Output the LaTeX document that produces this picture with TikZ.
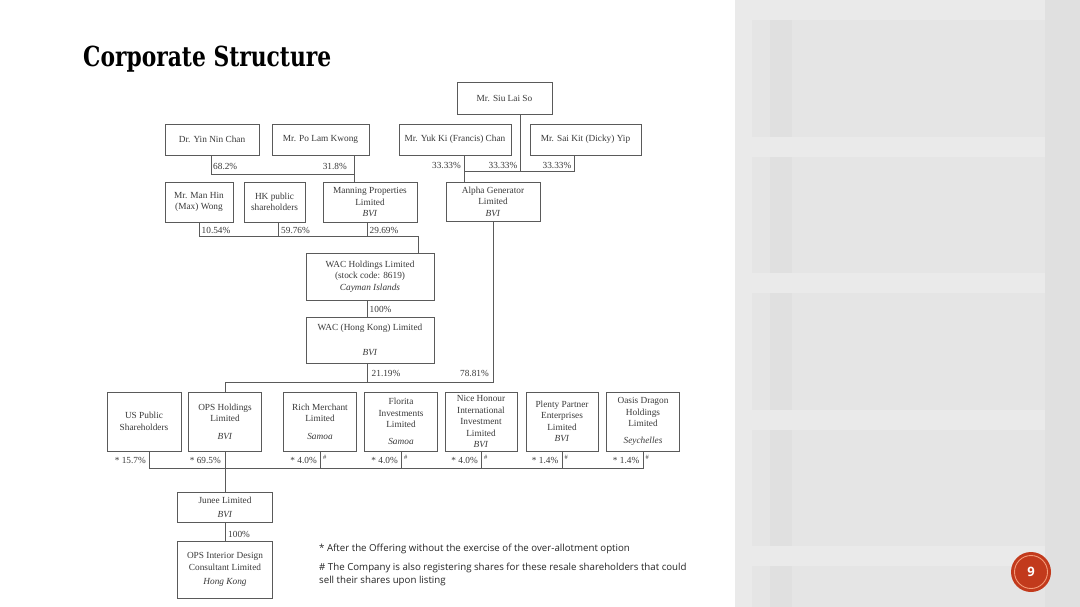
\documentclass[tikz,border=0pt]{standalone}
\usepackage{fontspec}
\usepackage{graphicx}
\setmainfont{Liberation Serif}
\newfontfamily\notefont{Open Sans}
\newfontfamily\titlefont{DejaVu Serif}
\newfontfamily\numfont{Open Sans}
\usetikzlibrary{calc}
\definecolor{linec}{HTML}{5A5A5A}
\definecolor{textc}{HTML}{3A3A3A}
\definecolor{panel}{HTML}{E5E5E5}
\definecolor{panelD}{HTML}{E0E0E0}
\definecolor{panelL}{HTML}{EAEAEA}
\definecolor{pgred}{HTML}{C23A1C}
\definecolor{pgring}{HTML}{F39A78}
\newcommand{\orgfont}{\fontsize{9.3}{11.5}\selectfont}
\newcommand{\smallhash}{\fontsize{6.5}{7}\selectfont\#}
\begin{document}
\begin{tikzpicture}[x=1pt,y=-1pt,
  orgbox/.style={draw=linec, line width=0.6pt, inner sep=0pt, align=center, text=textc, font=\orgfont},
  pct/.style={inner sep=0pt, text=textc, font=\orgfont},
  hashlbl/.style={inner sep=0pt, text=textc, anchor=west},
  conn/.style={draw=linec, line width=0.6pt},
  note/.style={inner sep=0pt, anchor=west, text=black!85, font=\notefont\fontsize{9.7}{12}\selectfont}]
\useasboundingbox (0,0) rectangle (1080,607);
% backgrounds
\fill[white] (0,0) rectangle (735,607);
\fill[panel] (735,0) rectangle (1080,607);
\fill[panelD] (770,0) rectangle (792,607);
\fill[panelD] (1045,0) rectangle (1080,607);
\foreach \yy in {0,137,273,410,546} {
  \fill[panelL] (735,\yy) rectangle (1045,\yy+20);
}
\fill[panelL] (735,0) rectangle (752,607);
% title
\node[anchor=base west, inner sep=0pt] (title) at (83,67) {\resizebox{248pt}{20.5pt}{\titlefont\bfseries Corporate Structure}};
% top boxes
\node[orgbox, minimum width=95pt, minimum height=32pt] (siu) at (504.5,98) {Mr. Siu Lai So};
\node[orgbox, minimum width=94pt, minimum height=31pt] (yin) at (212,139.5) {Dr. Yin Nin Chan};
\node[orgbox, minimum width=97pt, minimum height=31pt] (po) at (320.5,139.5) {Mr. Po Lam Kwong};
\node[orgbox, minimum width=112pt, minimum height=31pt] (yuk) at (455,139.5) {Mr. Yuk Ki (Francis) Chan};
\node[orgbox, minimum width=111pt, minimum height=31pt] (sai) at (585.5,139.5) {Mr. Sai Kit (Dicky) Yip};
% second row
\node[orgbox, minimum width=68pt, minimum height=40pt] (maxw) at (199,202) {Mr. Man Hin\\(Max) Wong};
\node[orgbox, minimum width=61pt, minimum height=40pt] (hk) at (274.5,202) {HK public\\shareholders};
\node[orgbox, minimum width=94pt, minimum height=40pt] (manning) at (370,202) {Manning Properties\\Limited\\\textit{BVI}};
\node[orgbox, minimum width=94pt, minimum height=39pt] (alpha) at (493,201.5) {Alpha Generator\\Limited\\\textit{BVI}};
% WAC
\node[orgbox, minimum width=128pt, minimum height=47pt] (wac) at (370,276.5) {WAC Holdings Limited\\(stock code: 8619)\\\textit{Cayman Islands}};
\node[orgbox, minimum width=128pt, minimum height=46pt] (wachk) at (370,340) {WAC (Hong Kong) Limited\\[13.5pt]\textit{BVI}};
% bottom row
\node[orgbox, minimum width=74pt, minimum height=59pt] (us) at (144,421.5) {US Public\\Shareholders};
\node[orgbox, minimum width=73pt, minimum height=59pt] (ops) at (225,421.5) {OPS Holdings\\Limited\\[6pt]\textit{BVI}};
\node[orgbox, minimum width=73pt, minimum height=59pt] (rich) at (320,421.5) {Rich Merchant\\Limited\\[6pt]\textit{Samoa}};
\node[orgbox, minimum width=73pt, minimum height=59pt] (florita) at (401,421.5) {Florita\\Investments\\Limited\\[5pt]\textit{Samoa}};
\node[orgbox, minimum width=72pt, minimum height=59pt] (nice) at (481,421.5) {Nice Honour\\International\\Investment\\Limited\\\textit{BVI}};
\node[orgbox, minimum width=72pt, minimum height=59pt] (plenty) at (562,421.5) {Plenty Partner\\Enterprises\\Limited\\\textit{BVI}};
\node[orgbox, minimum width=73pt, minimum height=59pt] (oasis) at (643,421.5) {Oasis Dragon\\Holdings\\Limited\\[5pt]\textit{Seychelles}};
% lower
\node[orgbox, minimum width=95pt, minimum height=30pt] (junee) at (225,507) {Junee Limited\\[2.5pt]\textit{BVI}};
\node[orgbox, minimum width=95pt, minimum height=57pt] (opsint) at (225,569.5) {OPS Interior Design\\Consultant Limited\\[2.5pt]\textit{Hong Kong}};
% connectors top right
\coordinate (hA) at (464,171);
\draw[conn] ([xshift=9pt]yuk.south) -- ([xshift=9pt]yuk.south |- alpha.north);
\draw[conn] (hA) -| ([xshift=-11.5pt]sai.south);
\draw[conn] ([xshift=15.5pt]siu.south) -- ([xshift=15.5pt]siu.south |- hA);
\node[pct, anchor=east] (l1) at (461,165) {33.33\%};
\node[pct, anchor=east] (l2) at (517.5,165) {33.33\%};
\node[pct, anchor=east] (l3) at (571.5,165) {33.33\%};
% connectors top left
\coordinate (hB) at (211,174);
\draw[conn] ([xshift=-1pt]yin.south) |- ([xshift=33.5pt]po.south |- hB);
\draw[conn] ([xshift=33.5pt]po.south) -- ([xshift=33.5pt]po.south |- manning.north);
\node[pct, anchor=west] (l4) at (213,166) {68.2\%};
\node[pct, anchor=east] (l5) at (347,166) {31.8\%};
% second row to WAC
\coordinate (hC) at (418,236);
\draw[conn] (maxw.south) |- (hC) -- (hC |- wac.north);
\draw[conn] ([xshift=3.5pt]hk.south) -- ([xshift=3.5pt]hk.south |- hC);
\draw[conn] ([xshift=-3pt]manning.south) -- ([xshift=-3pt]manning.south |- hC);
\node[pct, anchor=west] (l6) at (201.5,230.5) {10.54\%};
\node[pct, anchor=west] (l7) at (281,230.5) {59.76\%};
\node[pct, anchor=west] (l8) at (369.5,230.5) {29.69\%};
% WAC chain
\draw[conn] ([xshift=-3pt]wac.south) -- ([xshift=-3pt]wac.south |- wachk.north);
\node[pct, anchor=west] (l9) at (369.5,309) {100\%};
\coordinate (hD) at (225,382);
\draw[conn] ([xshift=-3pt]wachk.south) -- ([xshift=-3pt]wachk.south |- hD);
\draw[conn] (alpha.south) |- (ops.north |- hD) -- (ops.north);
\node[pct, anchor=west] (l10) at (371.5,373) {21.19\%};
\node[pct, anchor=east] (l11) at (489,373) {78.81\%};
% bottom row connectors
\coordinate (hE) at (149,468);
\draw[conn] ([xshift=5pt]us.south) |- (oasis.south |- hE) -- (oasis.south);
\foreach \n in {rich,florita,nice,plenty} {
  \draw[conn] (\n.south) -- (\n.south |- hE);
}
\draw[conn] (ops.south) -- (junee.north);
\draw[conn] (junee.south) -- (opsint.north);
\node[pct, anchor=east] (b1) at (146,460.5) {* 15.7\%};
\node[pct, anchor=east] (b2) at (221,460.5) {* 69.5\%};
\node[pct, anchor=east] (b3) at (317,460.5) {* 4.0\%};
\node[pct, anchor=east] (b4) at (398,460.5) {* 4.0\%};
\node[pct, anchor=east] (b5) at (478,460.5) {* 4.0\%};
\node[pct, anchor=east] (b6) at (558.5,460.5) {* 1.4\%};
\node[pct, anchor=east] (b7) at (639.5,460.5) {* 1.4\%};
\node[hashlbl] (h3) at (323,457) {\smallhash};
\node[hashlbl] (h4) at (404,457) {\smallhash};
\node[hashlbl] (h5) at (484,457) {\smallhash};
\node[hashlbl] (h6) at (564.5,457) {\smallhash};
\node[hashlbl] (h7) at (645.5,457) {\smallhash};
\node[pct, anchor=west] (l12) at (228,534) {100\%};
% footnotes
\node[note] (fn1) at (319,549) {* After the Offering without the exercise of the over-allotment option};
\node[note] (fn2) at (319,568) {\# The Company is also registering shares for these resale shareholders that could};
\node[note] (fn3) at (319,580.5) {sell their shares upon listing};
% page number
\node[circle, fill=pgred, minimum size=40pt, inner sep=0pt, text=white, font=\numfont\bfseries\fontsize{13}{13}\selectfont] (pg) at (1031,572) {9};
\draw[pgring, line width=0.9pt] (pg.center) circle (16.5pt);
\end{tikzpicture}
\end{document}
